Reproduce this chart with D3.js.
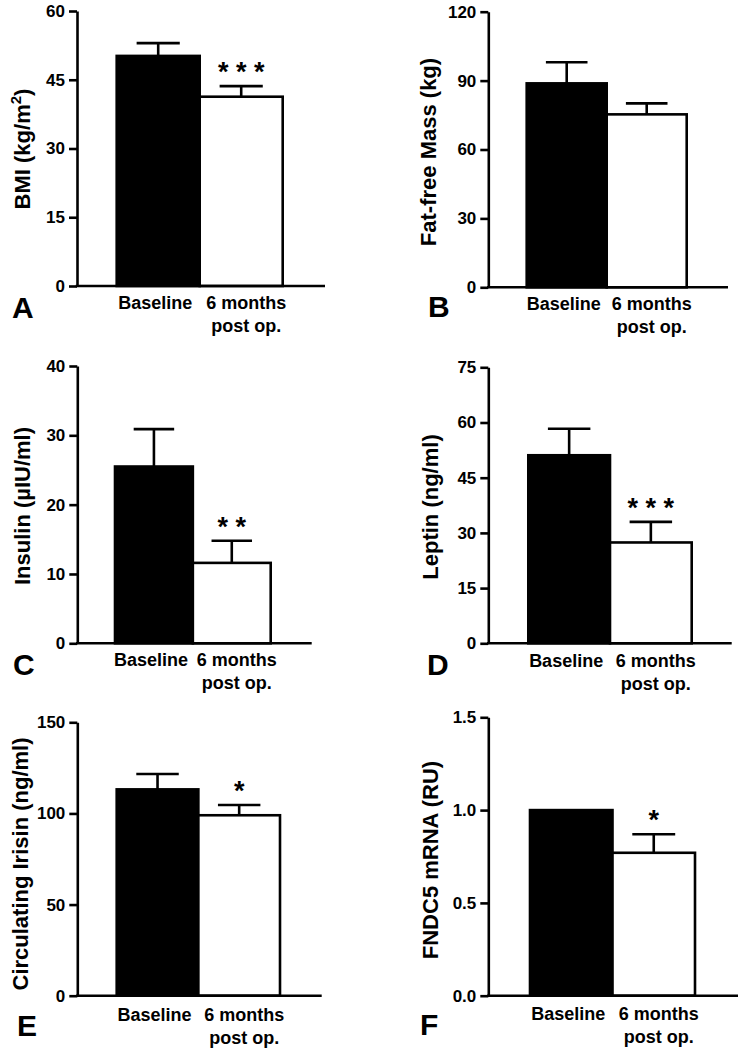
<!DOCTYPE html>
<html>
<head>
<meta charset="utf-8">
<script src="https://cdn.jsdelivr.net/npm/d3@7"></script>
<style>
  html, body { margin: 0; padding: 0; background: #fff; }
  svg { display: block; }
  text { font-family: "Liberation Sans", Arial, Helvetica, sans-serif; font-weight: bold; fill: #000; }
</style>
</head>
<body>
<svg id="chart" width="739" height="1050"></svg>
<script>
// ---------------- DATA ----------------
const panelIds = ["A", "B", "C", "D", "E", "F"];
const categories = ["Baseline", "6 months post op."];
const categoryLines = [["Baseline"], ["6 months", "post op."]];
const yLabels = ["BMI (kg/m2)", "Fat-free Mass (kg)", "Insulin (\u00B5IU/ml)", "Leptin (ng/ml)", "Circulating Irisin (ng/ml)", "FNDC5 mRNA (RU)"];
const yMax = [60, 120, 40, 75, 150, 1.5];
const tickValues = [
  [0, 15, 30, 45, 60],
  [0, 30, 60, 90, 120],
  [0, 10, 20, 30, 40],
  [0, 15, 30, 45, 60, 75],
  [0, 50, 100, 150],
  [0, 0.5, 1.0, 1.5]
];
const tickFormats = ["d", "d", "d", "d", "d", ".1f"];
const baselineMeans = [50.2, 88.8, 25.5, 51.1, 113.2, 1.0];
const postOpMeans   = [41.3, 75.3, 11.6, 27.4, 99.0, 0.77];
const baselineSEM   = [2.8, 9.2, 5.4, 7.2, 8.4, 0];
const postOpSEM     = [2.3, 4.8, 3.2, 5.6, 5.6, 0.10];
const significance  = ["* * *", "", "* *", "* * *", "*", "*"];

// ---------------- LAYOUT ----------------
const layout = [
  {ax: 77,    y0: 286,   yTop: 11,    xEnd: 325,   b0: 116.7, b1: 282.7, lblX: 30,  lblY: 149, letX: 12,  letY: 318,  catY: 309},
  {ax: 488.3, y0: 287.3, yTop: 11.7,  xEnd: 728,   b0: 526.7, b1: 686.7, lblX: 436, lblY: 152, letX: 428, letY: 317,  catY: 310},
  {ax: 77.3,  y0: 643.3, yTop: 366,   xEnd: 311.7, b0: 115,   b1: 270.7, lblX: 30,  lblY: 506, letX: 13,  letY: 675,  catY: 666},
  {ax: 488.3, y0: 643.3, yTop: 367.3, xEnd: 731.7, b0: 528.3, b1: 691.7, lblX: 438, lblY: 507, letX: 427, letY: 675,  catY: 667},
  {ax: 77.3,  y0: 995.7, yTop: 722.3, xEnd: 321.7, b0: 116.7, b1: 280,   lblX: 28,  lblY: 864, letX: 17,  letY: 1036, catY: 1021},
  {ax: 488.3, y0: 995.7, yTop: 717.3, xEnd: 738,   b0: 530,   b1: 695,   lblX: 438, lblY: 860, letX: 420, letY: 1035, catY: 1020}
];

const svg = d3.select("#chart");
const SW = 2.6;

panelIds.forEach((id, i) => {
  const L = layout[i];
  const g = svg.append("g");
  const y = d3.scaleLinear().domain([0, yMax[i]]).range([L.y0, L.yTop]);
  const x = d3.scaleBand().domain(categories).range([L.b0, L.b1]).padding(0);
  const bw = x.bandwidth();

  const rows = [
    {cat: categories[0], mean: baselineMeans[i], sem: baselineSEM[i], fill: "#000", sig: ""},
    {cat: categories[1], mean: postOpMeans[i], sem: postOpSEM[i], fill: "#fff", sig: significance[i]}
  ];

  // error bars (upper only)
  rows.forEach(r => {
    if (r.sem > 0) {
      const cx = x(r.cat) + bw / 2;
      g.append("line").attr("x1", cx).attr("x2", cx)
        .attr("y1", y(r.mean)).attr("y2", y(r.mean + r.sem))
        .attr("stroke", "#000").attr("stroke-width", SW);
      g.append("line").attr("x1", cx - bw * 0.26).attr("x2", cx + bw * 0.26)
        .attr("y1", y(r.mean + r.sem)).attr("y2", y(r.mean + r.sem))
        .attr("stroke", "#000").attr("stroke-width", SW);
    }
  });

  // bars
  g.selectAll("rect.bar").data(rows).enter().append("rect")
    .attr("class", "bar")
    .attr("x", d => x(d.cat))
    .attr("width", bw)
    .attr("y", d => y(d.mean))
    .attr("height", d => y(0) - y(d.mean))
    .attr("fill", d => d.fill)
    .attr("stroke", "#000")
    .attr("stroke-width", SW);

  // significance stars
  rows.forEach(r => {
    if (r.sig) {
      g.append("text")
        .attr("x", x(r.cat) + bw / 2)
        .attr("y", y(r.mean + r.sem) - 5)
        .attr("text-anchor", "middle")
        .attr("font-size", 27)
        .attr("xml:space", "preserve")
        .text(r.sig);
    }
  });

  // y axis
  const yAxis = d3.axisLeft(y)
    .tickValues(tickValues[i])
    .tickFormat(d3.format(tickFormats[i]))
    .tickSize(8)
    .tickSizeOuter(0)
    .tickPadding(4);
  const ya = g.append("g").attr("transform", `translate(${L.ax},0)`).call(yAxis);
  ya.select(".domain").attr("stroke", "#000").attr("stroke-width", SW);
  ya.selectAll(".tick line").attr("stroke", "#000").attr("stroke-width", SW);
  ya.selectAll(".tick text")
    .attr("font-size", 17)
    .attr("font-family", "'Liberation Sans', Arial, sans-serif")
    .attr("font-weight", "bold")
    .attr("fill", "#000");

  // x axis line
  g.append("line")
    .attr("x1", L.ax - SW / 2).attr("x2", L.xEnd)
    .attr("y1", y(0)).attr("y2", y(0))
    .attr("stroke", "#000").attr("stroke-width", SW);

  // category labels
  categories.forEach((c, ci) => {
    const t = g.append("text")
      .attr("x", x(c) + bw / 2)
      .attr("y", L.catY)
      .attr("text-anchor", "middle")
      .attr("font-size", 18);
    categoryLines[ci].forEach((line, li) => {
      t.append("tspan")
        .attr("x", x(c) + bw / 2 + (ci === 1 ? 5 : -3))
        .attr("dy", li === 0 ? 0 : 23)
        .text(line);
    });
  });

  // y label
  const yl = g.append("text")
    .attr("transform", `translate(${L.lblX},${L.lblY}) rotate(-90)`)
    .attr("text-anchor", "middle")
    .attr("font-size", 22);
  if (i === 0) {
    yl.append("tspan").text("BMI (kg/m");
    yl.append("tspan").attr("font-size", 15).attr("dy", -9).text("2");
    yl.append("tspan").attr("dy", 9).text(")");
  } else {
    yl.text(yLabels[i]);
  }

  // panel letter
  g.append("text")
    .attr("x", L.letX)
    .attr("y", L.letY)
    .attr("font-size", 30)
    .text(id);
});
</script>
</body>
</html>
